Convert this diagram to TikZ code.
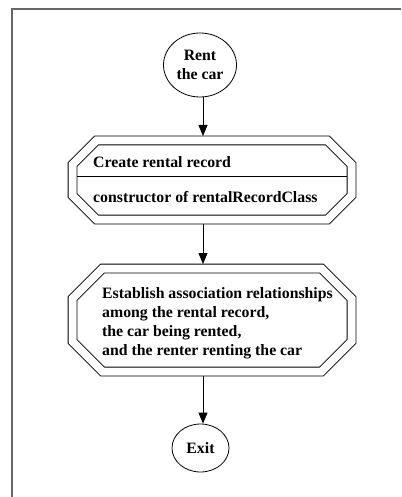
\documentclass[tikz,border=0pt]{standalone}
\usepackage{fontspec}
\setmainfont{Liberation Serif}
\usetikzlibrary{shapes.geometric,arrows.meta,calc}

\tikzset{
  every node/.style={font=\bfseries\fontsize{15.8}{19}\selectfont, inner sep=0pt},
  terminal/.style={ellipse, draw, line width=0.8pt},
  procbox/.style={rectangle, outer sep=0pt, minimum width=288pt},
  octo/.style={draw, double, double distance=8pt, line width=0.8pt, line join=miter},
  label/.style={anchor=west, align=left},
  flow/.style={line width=0.8pt, -{Triangle[length=11pt,width=9pt]}},
  frame/.style={draw=black!60, line width=1.5pt}
}

% double-lined octagon around a procbox node: #1 node name, #2 chamfer size
\newcommand\octoframe[2]{%
  \draw[octo]
    ($(#1.north west)+(4.5+#2,4.5)$) -- ($(#1.north east)+(-4.5-#2,4.5)$) --
    ($(#1.north east)+(-4.5,4.5+#2)$) -- ($(#1.south east)+(-4.5,-4.5-#2)$) --
    ($(#1.south east)+(-4.5-#2,-4.5)$) -- ($(#1.south west)+(4.5+#2,-4.5)$) --
    ($(#1.south west)+(4.5,-4.5-#2)$) -- ($(#1.north west)+(4.5,4.5+#2)$) -- cycle;}

\begin{document}
\begin{tikzpicture}[x=1pt, y=-1pt]
  \useasboundingbox (0,0) rectangle (401,497);

  % page frame (top and left rules)
  \draw[frame] (401,9) -- (12,9) -- (12,497);

  % x position of the vertical flow line
  \coordinate (axis) at (203,0);

  % start and end terminals
  \node[terminal, minimum width=73pt, minimum height=64pt, align=center]
    (rent) at (200,65) {Rent\\the car};
  \node[terminal, minimum width=57pt, minimum height=48pt]
    (exit) at (200.5,448) {Exit};

  % step 1: create the rental record
  \node[procbox, minimum height=88pt] (rec) at (212,180) {};
  \octoframe{rec}{24}
  \draw[line width=0.8pt] ($(rec.west)+(9,-4)$) -- ($(rec.east)+(-9,-4)$);
  \node[label] (rectitle) at (93,162) {Create rental record};
  \node[label] (recctor) at (93,197) {constructor of rentalRecordClass};

  % step 2: establish the associations
  \node[procbox, minimum height=112pt] (assoc) at (212,320) {};
  \octoframe{assoc}{30}
  \node[label] (assoctext) at (102,323)
    {Establish association relationships\\among the rental record,\\the car being rented,\\and the renter renting the car};

  % flow connectors
  \draw[flow] (rent.south -| axis) -- (rec.north -| axis);
  \draw[flow] (rec.south -| axis) -- (assoc.north -| axis);
  \draw[flow] (assoc.south -| axis) -- (exit.north -| axis);
\end{tikzpicture}
\end{document}
